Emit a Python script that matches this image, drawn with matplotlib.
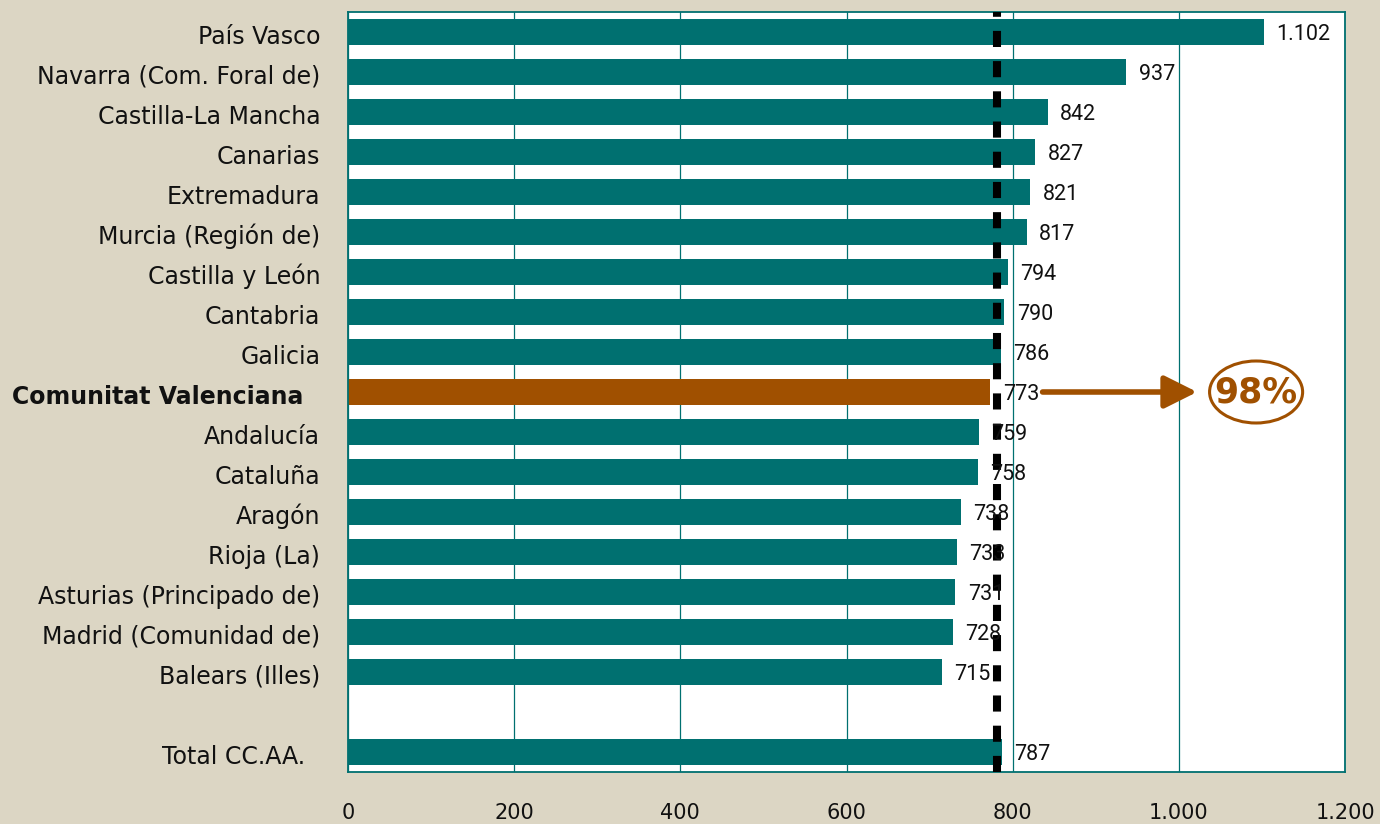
import matplotlib
matplotlib.use("Agg")
import matplotlib.pyplot as plt
from matplotlib.patches import Ellipse

categories = ["País Vasco", "Navarra (Com. Foral de)", "Castilla-La Mancha", "Canarias",
              "Extremadura", "Murcia (Región de)", "Castilla y León", "Cantabria", "Galicia",
              "Comunitat Valenciana", "Andalucía", "Cataluña", "Aragón", "Rioja (La)",
              "Asturias (Principado de)", "Madrid (Comunidad de)", "Balears (Illes)",
              "", "Total CC.AA."]
values = [1102, 937, 842, 827, 821, 817, 794, 790, 786, 773, 759, 758, 738, 733, 731, 728, 715,
          None, 787]
highlight = "Comunitat Valenciana"
total_label = "Total CC.AA."
ref_line = 781
pct_label = "98%"
xticks = [0, 200, 400, 600, 800, 1000, 1200]
xtick_labels = ["0", "200", "400", "600", "800", "1.000", "1.200"]

BG = "#DCD6C4"
TEAL = "#007070"
BROWN = "#A05000"

fig = plt.figure(figsize=(13.8, 8.24), dpi=100, facecolor=BG)
ax = fig.add_axes([348/1380, 1-772/824, (1345-348)/1380, (772-12)/824])
ax.set_facecolor("white")

def fmt(v):
    return f"{v:,}".replace(",", ".")

for i, (c, v) in enumerate(zip(categories, values)):
    if v is None:
        continue
    col = BROWN if c == highlight else TEAL
    ax.barh(i, v, height=0.65, color=col, zorder=2)
    ax.text(v + 15, i + 0.05, fmt(v), va="center", ha="left", fontsize=15.5,
            family="Roboto", color="#111111", zorder=4)

def label_text(c):
    if c == highlight:
        return c + "  "
    if c == total_label:
        return c + "  "
    return c

ax.set_ylim(len(categories) - 0.5, -0.5)
ax.set_xlim(0, 1200)
ax.set_yticks([i + 0.05 for i in range(len(categories))])
ax.set_yticklabels([label_text(c) for c in categories],
                   fontsize=17, family="DejaVu Sans", color="#111111")
for lbl in ax.get_yticklabels():
    if lbl.get_text().strip() == highlight:
        lbl.set_fontweight("bold")
ax.set_xticks(xticks)
ax.set_xticklabels(xtick_labels, fontsize=15, family="DejaVu Sans", color="#111111")
ax.tick_params(axis="both", length=0)
ax.tick_params(axis="y", pad=20)
ax.tick_params(axis="x", pad=22)
ax.grid(axis="x", color=TEAL, linewidth=0.9, zorder=1)
for s in ax.spines.values():
    s.set_color(TEAL)
    s.set_linewidth(1.3)

ax.axvline(ref_line, color="black", linewidth=5.8, linestyle=(0, (2.0, 1.75)),
           zorder=3, solid_capstyle="butt", dash_capstyle="butt")

hi = categories.index(highlight)
ax.annotate("", xy=(1022, hi), xytext=(836, hi),
            arrowprops=dict(arrowstyle="-|>,head_length=2.0,head_width=1.0",
                            color=BROWN, lw=4, shrinkA=0, shrinkB=0), zorder=4)
ax.add_patch(Ellipse((1093, hi), 112, 1.55, fill=False, edgecolor=BROWN, lw=2.2,
                     zorder=4, clip_on=False))
ax.text(1093, hi, pct_label, ha="center", va="center", fontsize=25, fontweight="bold",
        color=BROWN, family="DejaVu Sans", zorder=5)

fig.savefig("out.png", dpi=100, facecolor=BG)
